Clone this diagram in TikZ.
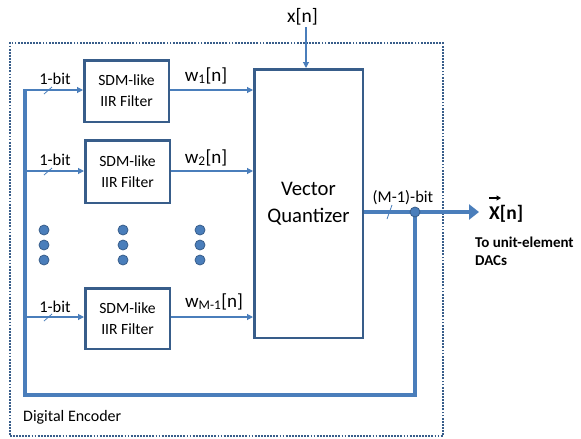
\documentclass[tikz,border=0pt]{standalone}
\usepackage{fontspec}
\setmainfont{Carlito}
\usetikzlibrary{arrows.meta}
\definecolor{lb}{HTML}{4A7EBB}
\definecolor{db}{HTML}{385D8A}
\begin{document}
\begin{tikzpicture}[x=1pt,y=-1pt,
  filt/.style={draw=db,line width=2.5pt,fill=white,minimum width=84.5pt,align=center,font=\fontsize{15.6}{21}\selectfont,inner sep=0pt},
  thin/.style={draw=lb,line width=1.1pt,-{Triangle[length=6pt,width=6pt]}},
  thick/.style={draw=lb,line width=4pt},
  slash/.style={draw=lb,line width=0.8pt},
  lbl/.style={font=\fontsize{16.5}{18}\selectfont,inner sep=0pt,anchor=base},
  wl/.style={font=\fontsize{19}{20}\selectfont,inner sep=0pt,anchor=base},
  dotn/.style={circle,fill=lb,draw=db,line width=0.8pt,minimum size=10pt,inner sep=0pt}]
\useasboundingbox (0,0) rectangle (581,439);
% dotted encoder box
\node[draw=db,line width=2pt,dash pattern=on 1.8pt off 1.3pt,minimum width=433pt,minimum height=393pt,inner sep=0pt] (enc) at (226.3,239.5) {};
\node[anchor=base west,font=\fontsize{16}{18}\selectfont,inner sep=0pt] (encl) at (23,421) {Digital Encoder};
% filters
\node[filt,minimum height=61.5pt] (f1) at (126.5,91) {SDM-like\\IIR Filter};
\node[filt,minimum height=62.5pt] (f2) at (127.5,171.5) {SDM-like\\IIR Filter};
\node[filt,minimum height=60.5pt] (f3) at (127.5,318.5) {SDM-like\\IIR Filter};
% quantizer
\node[draw=db,line width=2.5pt,minimum width=108.5pt,minimum height=268.5pt,inner sep=0pt,align=center,font=\fontsize{20.7}{27}\selectfont] (q) at (308.5,203.5) {Vector\\Quantizer};
% input x[n]
\node[font=\fontsize{19.5}{20}\selectfont,inner sep=0pt,anchor=base] (x) at (302.5,22) {x[n]};
\coordinate (xtop) at (306,27);
\draw[thin] (xtop) -- (q.north -| xtop);
% feedback path
\coordinate (tap) at (415,212);
\coordinate (fbr) at (415,395);
\coordinate (fbl) at (25,395);
\coordinate (fbt) at (25,89);
\draw[thick] (tap) -- (fbr) -- (fbl) -- (fbt);
% inputs to filters
\foreach \i/\y/\by in {1/90/84,2/171/165,3/317/312}{
  \coordinate (in\i) at (25,\y);
  \draw[thin] (in\i) -- (f\i.west |- in\i);
  \draw[slash] (44,\y+4) -- (52,\y-3);
  \node[lbl] (b\i) at (55,\by) {1-bit};
}
% filter outputs to quantizer
\draw[thin] (f1.east |- 0,90) -- (q.west |- 0,90);
\draw[thin] (f2.east |- 0,171) -- (q.west |- 0,171);
\draw[thin] (f3.east |- 0,317) -- (q.west |- 0,317);
\node[wl] (w1) at (206,81) {w\textsubscript{1}[n]};
\node[wl] (w2) at (206,163) {w\textsubscript{2}[n]};
\node[wl] (w3) at (214,307) {w\textsubscript{M-1}[n]};
% output
\coordinate (qout) at (q.east |- tap);
\coordinate (oend) at (479,212);
\draw[thick,-{Triangle[length=10pt,width=15pt]}] (qout) -- (oend);
\draw[slash] (387,219) -- (392,205);
\node[lbl] (mb) at (403,202) {(M-1)-bit};
\node[dotn] (td) at (tap) {};
\node[font=\bfseries\fontsize{19.5}{20}\selectfont,inner sep=0pt,anchor=base west] (X) at (489,219) {X[n]};
\draw[line width=1.5pt,-{Triangle[length=4.5pt,width=5pt]}] (489,198) -- (501,198);
\node[font=\bfseries\fontsize{15}{18}\selectfont,align=left,anchor=base west,inner sep=0pt] (to) at (475,265) {To unit-element\\DACs};
% ellipsis dots
\foreach \cx in {44,123,200}{
  \foreach \cy in {230,245,260}{
    \node[dotn] at (\cx,\cy) {};
  }
}
\end{tikzpicture}
\end{document}
